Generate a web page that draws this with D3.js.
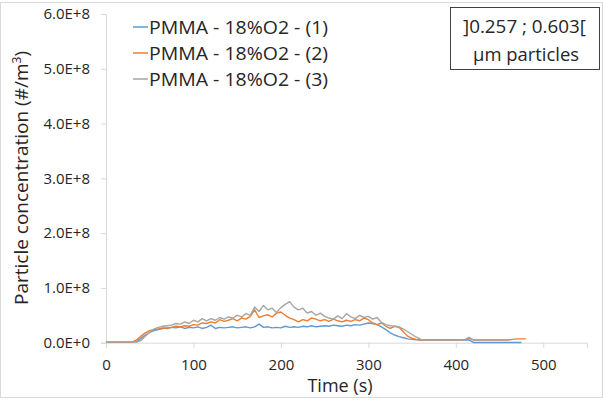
<!DOCTYPE html>
<html><head><meta charset="utf-8">
<script src="https://cdn.jsdelivr.net/npm/d3@7"></script>
<style>body{margin:0;background:#fff}svg{display:block}text{font-family:"Open Sans",sans-serif;fill:#262626}</style>
</head><body><svg id="c" width="603" height="400"></svg>
<script>
// Values in units of 1E+7 #/m3
const times = [0,5,10,15,20,25,30,35,40,45,50,55,60,65,70,75,80,85,90,95,100,105,110,115,120,125,130,135,140,145,150,155,160,165,170,175,180,185,190,195,200,205,210,215,220,225,230,235,240,245,250,255,260,265,270,275,280,285,290,295,300,305,310,315,320,325,330,335,340,345,350,355,360,365,370,375,380,385,390,395,400,405,410,415,420,425,430,435,440,445,450,455,460,465,470,475,480];
const series1 = [0.1,0.1,0.1,0.1,0.1,0.1,0.1,0.2,0.8,1.4,1.9,2.2,2.4,2.6,2.7,2.8,2.7,2.9,2.6,2.8,2.7,2.9,2.6,2.8,3.2,2.6,2.8,2.7,2.8,2.9,2.7,2.8,2.9,2.7,2.9,3.4,2.8,2.9,2.7,2.8,2.7,3.0,2.8,2.9,2.8,3.0,2.9,3.1,2.9,3.0,3.1,3.0,3.2,3.1,3.0,3.2,3.1,3.3,3.2,3.4,3.6,3.5,3.3,2.9,2.4,1.8,1.4,1.1,0.9,0.7,0.6,0.55,0.5,0.5,0.5,0.5,0.5,0.5,0.5,0.5,0.5,0.5,0.5,0.5,0.05,0.05,0.05,0.05,0.05,0.05,0.05,0.05,0.05,0.05,0.05,0.05];
const series2 = [0.1,0.1,0.1,0.1,0.1,0.1,0.1,0.5,1.2,1.8,2.2,2.4,2.5,2.7,2.6,2.8,3.0,2.9,3.1,3.0,3.3,3.2,3.6,3.5,3.8,3.6,4.2,3.9,4.1,4.4,4.0,4.5,4.3,4.8,6.0,4.6,4.9,5.1,4.7,5.4,5.6,5.0,4.5,4.2,3.8,4.2,4.0,4.5,4.3,4.0,4.2,3.9,4.3,4.0,3.8,4.1,3.9,4.2,4.0,4.5,4.2,3.6,3.3,3.6,3.0,2.6,3.0,2.8,2.0,1.2,0.8,0.6,0.5,0.5,0.5,0.5,0.5,0.5,0.5,0.5,0.5,0.5,0.5,0.8,0.5,0.5,0.5,0.5,0.5,0.5,0.5,0.5,0.5,0.6,0.7,0.7,0.7];
const series3 = [0.1,0.1,0.1,0.1,0.1,0.1,0.1,0.1,0.4,1.2,1.9,2.5,2.8,3.0,3.1,3.2,3.5,3.4,3.8,3.5,4.1,3.8,4.4,4.0,4.4,4.1,4.6,4.3,4.7,4.5,5.0,4.7,5.3,5.0,6.5,5.7,6.8,6.0,6.3,5.5,6.4,7.0,7.5,6.5,6.0,6.3,5.4,5.7,5.0,5.4,4.8,4.5,4.3,4.9,4.4,5.3,4.7,4.4,5.0,4.6,4.8,4.3,4.6,3.7,3.3,3.1,3.0,2.9,2.5,2.0,1.5,1.0,0.6,0.5,0.5,0.5,0.5,0.5,0.5,0.5,0.5,0.5,0.5,1.0,0.5,0.5,0.5,0.5,0.5,0.5,0.5,0.5,0.5];
const seriesNames = ["PMMA - 18%O2 - (1)","PMMA - 18%O2 - (2)","PMMA - 18%O2 - (3)"];
const colors = ["#5B9BD5","#ED7D31","#A5A5A5"];
const yTickValues = [0,10,20,30,40,50,60];
const yTickLabels = ["0.0E+0","1.0E+8","2.0E+8","3.0E+8","4.0E+8","5.0E+8","6.0E+8"];
const xTickValues = [0,100,200,300,400,500];

const svg = d3.select("#c");
svg.append("rect").attr("x",0.5).attr("y",2.5).attr("width",602).attr("height",395)
  .attr("fill","none").attr("stroke","#d9d9d9");

const x = d3.scaleLinear().domain([0,550]).range([106,587]);
const y = d3.scaleLinear().domain([0,60]).range([342.7,14]);

const xAxis = svg.append("g").attr("transform","translate(0,342.7)")
  .call(d3.axisBottom(x).tickValues(xTickValues).tickSize(5).tickPadding(12).tickFormat(d3.format("d")));
const yAxis = svg.append("g").attr("transform","translate(106,0)")
  .call(d3.axisLeft(y).tickValues(yTickValues).tickSize(5).tickPadding(11).tickFormat((d,i)=>yTickLabels[i]));
[xAxis,yAxis].forEach(g=>{
  g.selectAll("path").attr("stroke","#d9d9d9");
  g.selectAll("line").attr("stroke","#d9d9d9");
  g.selectAll("text").style("font-size","15px").attr("fill","#262626");
});

const allSeries = [series1,series2,series3];
const line = d3.line().x((d,i)=>x(times[i])).y(d=>y(d));
allSeries.forEach((s,k)=>{
  svg.append("path").datum(s).attr("d",line).attr("fill","none")
    .attr("stroke",colors[k]).attr("stroke-width",1.4).attr("stroke-linejoin","round");
});

// legend
seriesNames.forEach((n,k)=>{
  const ly = 27 + k*26;
  svg.append("line").attr("x1",133).attr("x2",148).attr("y1",ly).attr("y2",ly)
    .attr("stroke",colors[k]).attr("stroke-width",1.5);
  svg.append("text").attr("x",149).attr("y",ly+6.5).style("font-size","18px")
    .attr("textLength",179).attr("lengthAdjust","spacingAndGlyphs").text(n);
});

// annotation box
svg.append("rect").attr("x",450.5).attr("y",7.5).attr("width",149).attr("height",62)
  .attr("fill","#fff").attr("stroke","#404040");
svg.append("text").attr("x",463).attr("y",33).style("font-size","18px")
  .attr("textLength",123).attr("lengthAdjust","spacingAndGlyphs").text("]0.257 ; 0.603[");
svg.append("text").attr("x",473).attr("y",61).style("font-size","18px")
  .attr("textLength",106).attr("lengthAdjust","spacingAndGlyphs").text("µm particles");

// axis titles
svg.append("text").attr("x",340).attr("y",392).attr("text-anchor","middle").style("font-size","18px").text("Time (s)");
const yt = svg.append("text").attr("transform","translate(28,178) rotate(-90)").attr("text-anchor","middle").style("font-size","19px");
yt.append("tspan").text("Particle concentration (#/m");
yt.append("tspan").attr("dy",-7).style("font-size","12px").text("3");
yt.append("tspan").attr("dy",7).text(")");
</script></body></html>
